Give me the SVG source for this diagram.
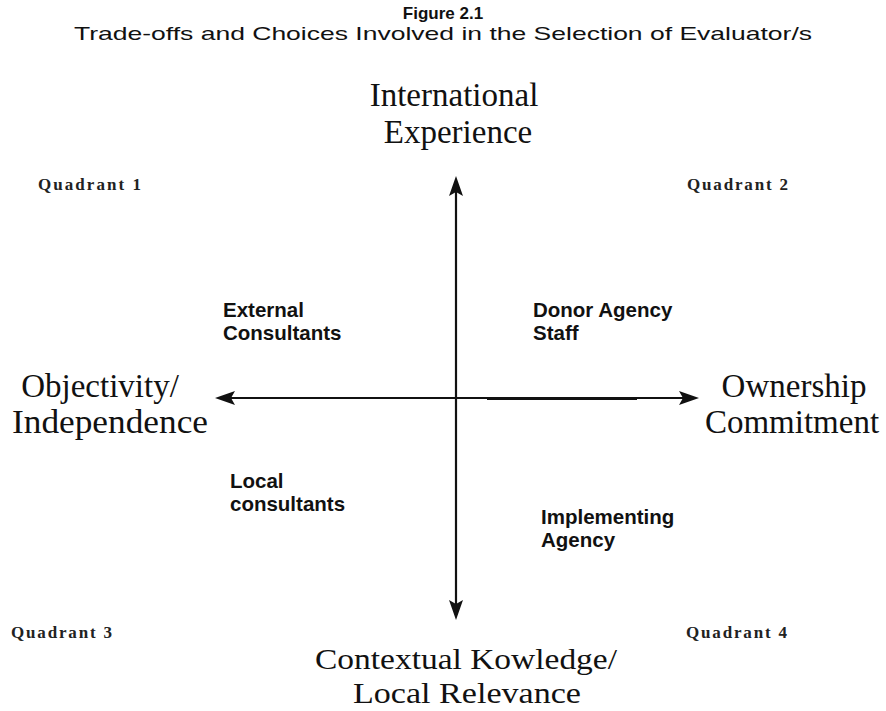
<svg xmlns="http://www.w3.org/2000/svg" width="886" height="711" viewBox="0 0 886 711">
  <style>
    .title { font-family: "Liberation Sans", Arial, sans-serif; font-size: 17px; font-weight: bold; fill: #111; }
    .sub { font-family: "Liberation Sans", Arial, sans-serif; font-size: 19px; fill: #111; }
    .axis-label { font-family: "Liberation Serif", "Times New Roman", serif; font-size: 33px; fill: #111; }
    .axis-label-low { font-family: "Liberation Serif", "Times New Roman", serif; font-size: 30px; fill: #111; }
    .quad { font-family: "Liberation Serif", "Times New Roman", serif; font-size: 17px; font-weight: bold; fill: #222; letter-spacing: 1px; }
    .actor { font-family: "Liberation Sans", Arial, sans-serif; font-size: 20.5px; font-weight: bold; fill: #111; }
    .axis { stroke: #111; stroke-width: 2.2; fill: none; }
    .head { fill: #111; }
  </style>
  <rect width="886" height="711" fill="#fff"/>

  <g id="title">
    <text class="title" x="443" y="19" text-anchor="middle">Figure 2.1</text>
    <text class="sub" x="443" y="40" text-anchor="middle" textLength="738" lengthAdjust="spacingAndGlyphs">Trade-offs and Choices Involved in the Selection of Evaluator/s</text>
  </g>

  <!-- the two axes, each with an arrowhead at both ends -->
  <g id="connectors">
    <line class="axis" x1="456" y1="190" x2="456" y2="606"/>
    <line class="axis" x1="228" y1="398" x2="688" y2="398"/>
    <line class="axis" x1="487" y1="399" x2="637" y2="399" stroke-width="3"/>
    <path class="head" d="M456,176 L449,196 L456,192 L463,196 Z"/>
    <path class="head" d="M456,620 L449,600 L456,604 L463,600 Z"/>
    <path class="head" d="M215,398 L235,391 L231,398 L235,405 Z"/>
    <path class="head" d="M699,398 L679,391 L683,398 L679,405 Z"/>
  </g>

  <g id="axis-top">
    <text class="axis-label" x="454" y="106" text-anchor="middle">International</text>
    <text class="axis-label" x="458" y="143" text-anchor="middle">Experience</text>
  </g>
  <g id="axis-left">
    <text class="axis-label" x="100" y="397" text-anchor="middle">Objectivity/</text>
    <text class="axis-label" x="110" y="433" text-anchor="middle" textLength="196" lengthAdjust="spacingAndGlyphs">Independence</text>
  </g>
  <g id="axis-right">
    <text class="axis-label" x="794" y="397" text-anchor="middle">Ownership</text>
    <text class="axis-label" x="792" y="433" text-anchor="middle">Commitment</text>
  </g>
  <g id="axis-bottom">
    <text class="axis-label-low" x="466" y="669" text-anchor="middle" textLength="302" lengthAdjust="spacingAndGlyphs">Contextual Kowledge/</text>
    <text class="axis-label-low" x="467" y="703" text-anchor="middle" textLength="228" lengthAdjust="spacingAndGlyphs">Local Relevance</text>
  </g>

  <g id="quadrant-1"><text class="quad" x="38" y="190" textLength="104">Quadrant 1</text></g>
  <g id="quadrant-2"><text class="quad" x="687" y="190" textLength="102">Quadrant 2</text></g>
  <g id="quadrant-3"><text class="quad" x="11" y="638" textLength="102">Quadrant 3</text></g>
  <g id="quadrant-4"><text class="quad" x="686" y="638" textLength="102">Quadrant 4</text></g>

  <g id="external-consultants">
    <text class="actor" x="223" y="317">External</text>
    <text class="actor" x="223" y="340">Consultants</text>
  </g>
  <g id="donor-agency-staff">
    <text class="actor" x="533" y="317">Donor Agency</text>
    <text class="actor" x="533" y="340">Staff</text>
  </g>
  <g id="local-consultants">
    <text class="actor" x="230" y="488">Local</text>
    <text class="actor" x="230" y="511">consultants</text>
  </g>
  <g id="implementing-agency">
    <text class="actor" x="541" y="524">Implementing</text>
    <text class="actor" x="541" y="547">Agency</text>
  </g>
</svg>
